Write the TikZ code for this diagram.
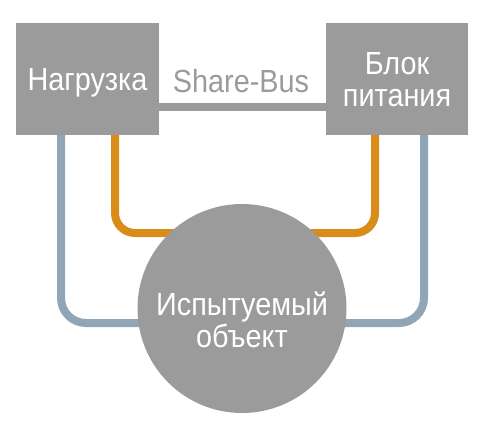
\documentclass[tikz,border=0pt]{standalone}
\usepackage{fontspec}
\setmainfont[FakeStretch=0.9]{Liberation Sans}
\usetikzlibrary{backgrounds}
\definecolor{boxgray}{HTML}{9B9B9B}
\definecolor{orangeline}{HTML}{DA8C1A}
\definecolor{blueline}{HTML}{90A5B5}
\tikzset{
  blockbox/.style={fill=boxgray, draw=none, minimum width=143pt, minimum height=112pt, inner sep=0pt},
  wtext/.style={text=white, font=\fontsize{32}{32}\selectfont, align=center, inner sep=0pt},
  gtext/.style={text=boxgray, font=\fontsize{32}{32}\selectfont, inner sep=0pt},
  busline/.style={draw=boxgray, line width=8pt},
  oline/.style={draw=orangeline, line width=8pt, rounded corners=20pt},
  bline/.style={draw=blueline, line width=8pt, rounded corners=25pt},
}
\begin{document}
\begin{tikzpicture}[x=1pt,y=-1pt]
\useasboundingbox (0,0) rectangle (486,436);
\node[blockbox] (lbox) at (87.5,79) {};
\node[blockbox, minimum width=142pt] (rbox) at (397,79) {};
\node[circle, fill=boxgray, minimum size=209pt, inner sep=0pt] (obj) at (242,308.5) {};
\node[wtext, anchor=base] (ltext) at (87.5,90) {Нагрузка};
\node[wtext] (rtext) at (397,79.5) {Блок\\питания};
\node[wtext] (otext) at (242,320) {Испытуемый\\объект};
\node[gtext, anchor=base] (bus) at (241,92) {Share-Bus};
\coordinate (bl) at (61,135);
\coordinate (ol) at (115,135);
\coordinate (or) at (375,135);
\coordinate (br) at (424,135);
\begin{scope}[on background layer]
\draw[busline] ([yshift=-28pt]lbox.east) -- ([yshift=-28pt]rbox.west);
\draw[bline] (bl) |- ([yshift=-14.5pt]obj.center);
\draw[bline] (br) |- ([yshift=-14.5pt]obj.center);
\draw[oline] (ol) |- ([yshift=75.5pt]obj.center);
\draw[oline] (or) |- ([yshift=75.5pt]obj.center);
\end{scope}
\end{tikzpicture}
\end{document}
